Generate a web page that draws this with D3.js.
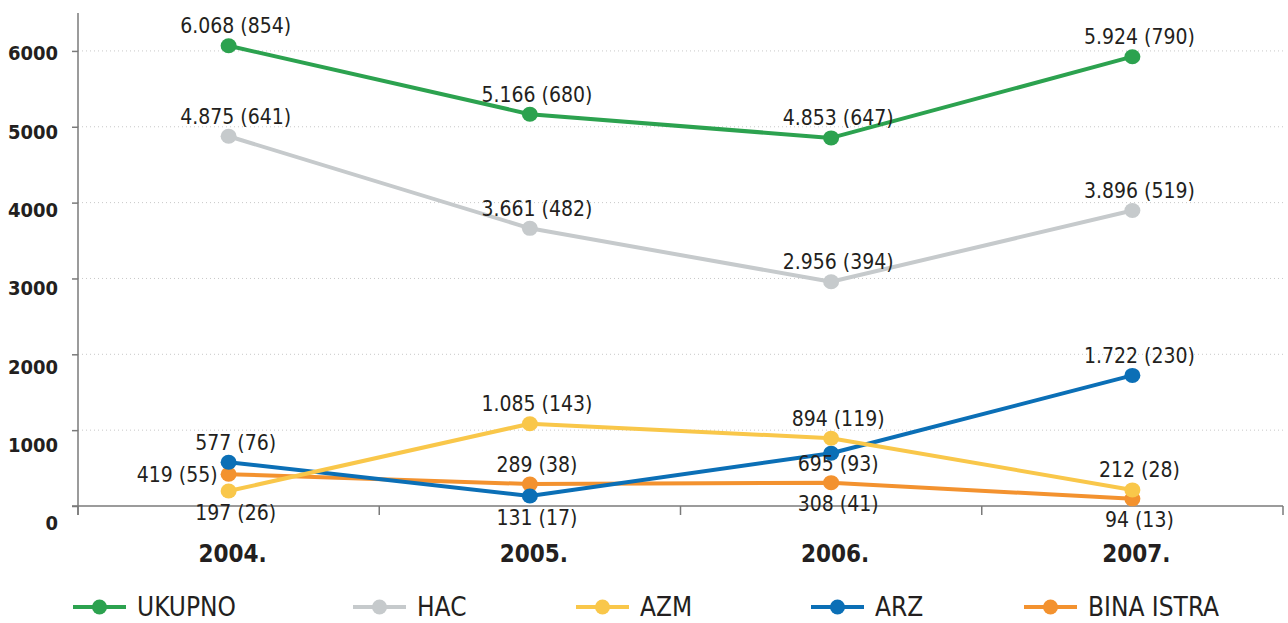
<!DOCTYPE html>
<html>
<head>
<meta charset="utf-8">
<script src="https://cdn.jsdelivr.net/npm/d3@7"></script>
<style>
  html, body { margin: 0; padding: 0; background: #fff; }
  svg { display: block; }
  text { font-family: "DejaVu Sans Condensed", "DejaVu Sans", sans-serif; fill: #231f20; }
</style>
</head>
<body>
<svg id="chart" width="1288" height="623"></svg>
<script>
// ---- data ----
const years = ["2004.", "2005.", "2006.", "2007."];
const seriesNames = ["UKUPNO", "HAC", "AZM", "ARZ", "BINA ISTRA"];
const ukupno = [6068, 5166, 4853, 5924];
const ukupnoCount = [854, 680, 647, 790];
const hac = [4875, 3661, 2956, 3896];
const hacCount = [641, 482, 394, 519];
const azm = [197, 1085, 894, 212];
const azmCount = [26, 143, 119, 28];
const arz = [577, 131, 695, 1722];
const arzCount = [76, 17, 93, 230];
const bina = [419, 289, 308, 94];
const binaCount = [55, 38, 41, 13];
const yTickValues = [0, 1000, 2000, 3000, 4000, 5000, 6000];

// ---- styling / placement ----
const colors = ["#2ca24f", "#c6cacc", "#f9c74a", "#0b6fb6", "#f3922f"];
// label placement per series per year: a = above, b = below, l = left, c = just below
const labelPlacement = [
  ["a", "a", "a", "a"],
  ["a", "a", "a", "a"],
  ["b", "a", "a", "a"],
  ["a", "b", "c", "a"],
  ["l", "a", "b", "b"]
];

const values = [ukupno, hac, azm, arz, bina];
const counts = [ukupnoCount, hacCount, azmCount, arzCount, binaCount];

const series = seriesNames.map((name, i) => ({
  name, color: colors[i], idx: i,
  points: years.map((yr, j) => ({ year: yr, value: values[i][j], count: counts[i][j], pos: labelPlacement[i][j] }))
}));

const locale = d3.formatLocale({ decimal: ",", thousands: ".", grouping: [3], currency: ["", ""] });
const fmt = locale.format(",d");

const svg = d3.select("#chart");
const mLeft = 78, mRight = 1283, mTop = 13, mBottom = 506;

const x = d3.scaleBand().domain(years).range([mLeft, mRight]);
const y = d3.scaleLinear().domain([0, 6500]).range([mBottom, mTop]);
// tick labels in the reference are spread slightly wider than the gridlines
const yLabel = d3.scaleLinear().domain([0, 6000]).range([523, 53]);
const cx = d => x(d.year) + x.bandwidth() / 2;

// gridlines
svg.append("g").selectAll("line")
  .data(yTickValues.filter(v => v > 0))
  .join("line")
  .attr("x1", mLeft).attr("x2", mRight)
  .attr("y1", d => y(d)).attr("y2", d => y(d))
  .attr("stroke", "#c8c8c8").attr("stroke-width", 1)
  .attr("stroke-dasharray", "1,3");

// y axis
const yAxis = d3.axisLeft(y).tickValues(yTickValues).tickSize(6).tickFormat("");
const gy = svg.append("g").attr("transform", `translate(${mLeft},0)`).call(yAxis);
gy.select(".domain").remove();
gy.selectAll(".tick line").attr("stroke", "#7a7a7a").attr("stroke-width", 1.5);
svg.append("line").attr("x1", mLeft).attr("x2", mLeft).attr("y1", mTop).attr("y2", mBottom + 9)
  .attr("stroke", "#7a7a7a").attr("stroke-width", 1.5);
svg.append("g").selectAll("text")
  .data(yTickValues).join("text")
  .attr("x", 58).attr("y", d => yLabel(d)).attr("dy", "0.36em")
  .attr("text-anchor", "end")
  .attr("font-size", 20).attr("font-weight", "bold")
  .text(d => d);

// x axis
svg.append("line").attr("x1", mLeft - 6).attr("x2", mRight).attr("y1", mBottom).attr("y2", mBottom)
  .attr("stroke", "#7a7a7a").attr("stroke-width", 1.5);
const boundaries = years.map(yr => x(yr)).concat([mRight]);
svg.append("g").selectAll("line").data(boundaries).join("line")
  .attr("x1", d => d).attr("x2", d => d).attr("y1", mBottom).attr("y2", mBottom + 9)
  .attr("stroke", "#7a7a7a").attr("stroke-width", 1.5);
svg.append("g").selectAll("text").data(years).join("text")
  .attr("x", d => x(d) + x.bandwidth() / 2 + 4).attr("y", 553).attr("dy", "0.36em")
  .attr("text-anchor", "middle").attr("font-size", 24).attr("font-weight", "bold")
  .text(d => d);

// lines & points (draw bottom series first)
const line = d3.line().x(cx).y(d => y(d.value));
const drawOrder = [4, 3, 2, 1, 0];
const gSeries = svg.append("g");
drawOrder.forEach(i => {
  const s = series[i];
  const g = gSeries.append("g");
  g.append("path").attr("d", line(s.points)).attr("fill", "none")
    .attr("stroke", s.color).attr("stroke-width", 4).attr("stroke-linejoin", "round");
  g.selectAll("ellipse").data(s.points).join("ellipse")
    .attr("cx", cx).attr("cy", d => y(d.value)).attr("rx", 8).attr("ry", 7.5)
    .attr("fill", s.color);
});

// data labels
const labels = svg.append("g");
series.forEach(s => {
  s.points.forEach(d => {
    const px = cx(d), py = y(d.value);
    let tx = px + 7, ty = py, anchor = "middle";
    if (d.pos === "a") ty = py - 20;
    else if (d.pos === "b") ty = py + 21;
    else if (d.pos === "c") ty = py + 10;
    else if (d.pos === "l") { tx = px - 11; anchor = "end"; }
    labels.append("text")
      .attr("x", tx).attr("y", ty).attr("dy", "0.36em")
      .attr("text-anchor", anchor).attr("font-size", 21)
      .text(`${fmt(d.value)} (${d.count})`);
  });
});

// legend
const legendX = [73, 353, 576, 811, 1024];
const legend = svg.append("g");
series.forEach((s, i) => {
  const g = legend.append("g").attr("transform", `translate(${legendX[i]},607)`);
  g.append("line").attr("x1", 0).attr("x2", 53).attr("y1", 0).attr("y2", 0)
    .attr("stroke", s.color).attr("stroke-width", 4);
  g.append("circle").attr("cx", 26.5).attr("cy", 0).attr("r", 7.5).attr("fill", s.color);
  g.append("text").attr("x", 64).attr("y", 0).attr("dy", "0.36em")
    .attr("font-size", 26).text(s.name);
});
</script>
</body>
</html>
